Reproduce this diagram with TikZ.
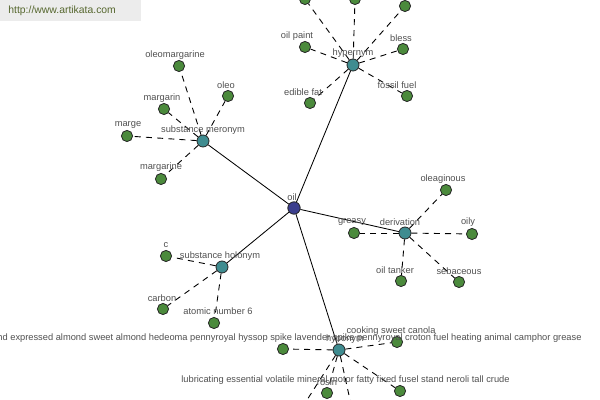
\documentclass[tikz,border=0pt]{standalone}
\usepackage{fontspec}
\setmainfont{Liberation Sans}
\definecolor{leafgreen}{HTML}{4B8A3C}
\definecolor{hubteal}{HTML}{3F8C90}
\definecolor{rootblue}{HTML}{3C3F8E}
\definecolor{labelgray}{HTML}{505050}
\definecolor{wmbg}{HTML}{ECECEC}
\definecolor{wmtext}{HTML}{56672E}
\tikzset{
  leaf/.style={circle, draw=black!85, line width=0.4pt, fill=leafgreen, inner sep=0pt, minimum size=5.6pt},
  hub/.style={circle, draw=black!85, line width=0.4pt, fill=hubteal, inner sep=0pt, minimum size=6pt},
  rootnode/.style={circle, draw=black!85, line width=0.4pt, fill=rootblue, inner sep=0pt, minimum size=6.2pt},
  lbl/.style={text=labelgray, font=\fontsize{4.65}{5}\selectfont, inner sep=0pt},
  rel/.style={line width=0.45pt, dash pattern=on 3pt off 2.6pt},
  mainedge/.style={line width=0.42pt},
}
\begin{document}
\begin{tikzpicture}[x=0.5pt,y=-0.5pt]
\useasboundingbox (0,0) rectangle (600,400);
\clip (0,0) rectangle (600,400);

% nodes
\node[rootnode] (oil) at (294,208) {};
\node[hub] (hyp) at (353,65) {};
\node[hub] (mer) at (203,141) {};
\node[hub] (der) at (405,233) {};
\node[hub] (hol) at (222,267) {};
\node[hub] (hypo) at (339,350) {};

% hypernym leaves
\node[leaf] (h1) at (305,-1) {};
\node[leaf] (h2) at (355,-1) {};
\node[leaf] (h3) at (405,6) {};
\node[leaf] (oilpaint) at (305,47) {};
\node[leaf] (bless) at (403,49) {};
\node[leaf] (ediblefat) at (310,103) {};
\node[leaf] (fossil) at (407,96) {};

% meronym leaves
\node[leaf] (oleomarg) at (179,66) {};
\node[leaf] (oleo) at (228,96) {};
\node[leaf] (margarin) at (164,109) {};
\node[leaf] (marge) at (127,136) {};
\node[leaf] (margarine) at (161,179) {};

% derivation leaves
\node[leaf] (oleaginous) at (446,190) {};
\node[leaf] (greasy) at (354,233) {};
\node[leaf] (oily) at (472,234) {};
\node[leaf] (tanker) at (401,281) {};
\node[leaf] (sebaceous) at (459,282) {};

% holonym leaves
\node[leaf] (c) at (166,256) {};
\node[leaf] (carbon) at (163,309) {};
\node[leaf] (atomic) at (214,323) {};

% hyponym leaves
\node[leaf] (y1) at (283,349) {};
\node[leaf] (y2) at (397,342) {};
\node[leaf] (y3) at (327,393) {};
\node[leaf] (y4) at (400,391) {};
\coordinate (y5) at (298,414);
\coordinate (y6) at (354,418);

% edges
\foreach \a/\b in {hyp/h1,hyp/h2,hyp/h3,hyp/oilpaint,hyp/bless,hyp/ediblefat,hyp/fossil,
  mer/oleomarg,mer/oleo,mer/margarin,mer/marge,mer/margarine,
  der/oleaginous,der/greasy,der/oily,der/tanker,der/sebaceous,
  hol/c,hol/carbon,hol/atomic,
  hypo/y1,hypo/y2,hypo/y3,hypo/y4,hypo/y5,hypo/y6}
  \draw[rel] (\a) -- (\b);
\foreach \b in {hyp,mer,der,hol,hypo}
  \draw[mainedge] (oil) -- (\b);

% labels
\node[lbl] (l-oil) at (292,197) {oil};
\node[lbl] (l-hyp) at (353,53) {hypernym};
\node[lbl] (l-mer) at (203,130) {substance meronym};
\node[lbl] (l-der) at (400,222) {derivation};
\node[lbl] (l-hol) at (220,256) {substance holonym};
\node[lbl] (l-hypo) at (345,339) {hyponym};
\node[lbl] (l-oilpaint) at (297,36) {oil paint};
\node[lbl] (l-bless) at (401,38) {bless};
\node[lbl] (l-ediblefat) at (303,92) {edible fat};
\node[lbl] (l-fossil) at (397,85) {fossil fuel};
\node[lbl] (l-oleomarg) at (175,55) {oleomargarine};
\node[lbl] (l-oleo) at (226,85) {oleo};
\node[lbl] (l-margarin) at (162,98) {margarin};
\node[lbl] (l-marge) at (128,125) {marge};
\node[lbl] (l-margarine) at (161,167) {margarine};
\node[lbl] (l-oleaginous) at (443,179) {oleaginous};
\node[lbl] (l-greasy) at (352,222) {greasy};
\node[lbl] (l-oily) at (468,222) {oily};
\node[lbl] (l-tanker) at (395,270) {oil tanker};
\node[lbl] (l-sebaceous) at (459,271) {sebaceous};
\node[lbl] (l-c) at (166,245) {c};
\node[lbl] (l-carbon) at (162,298) {carbon};
\node[lbl] (l-atomic) at (218,311) {atomic number 6};
\node[lbl, anchor=east] (l-y1) at (582,338) {nd expressed almond sweet almond hedeoma pennyroyal hyssop spike lavender spike pennyroyal croton fuel heating animal camphor grease};
\node[lbl] (l-y2) at (391,331) {cooking sweet canola};
\node[lbl] (l-y3) at (327,382) {rosin};
\node[lbl, anchor=east] (l-y4) at (510,380) {lubricating essential volatile mineral motor fatty fixed fusel stand neroli tall crude};

% watermark
\fill[wmbg] (0,0) rectangle (141,21);
\node[anchor=west, text=wmtext, font=\fontsize{5.2}{6}\selectfont, inner sep=0pt] (wm) at (8,11) {http://www.artikata.com};
\end{tikzpicture}
\end{document}
